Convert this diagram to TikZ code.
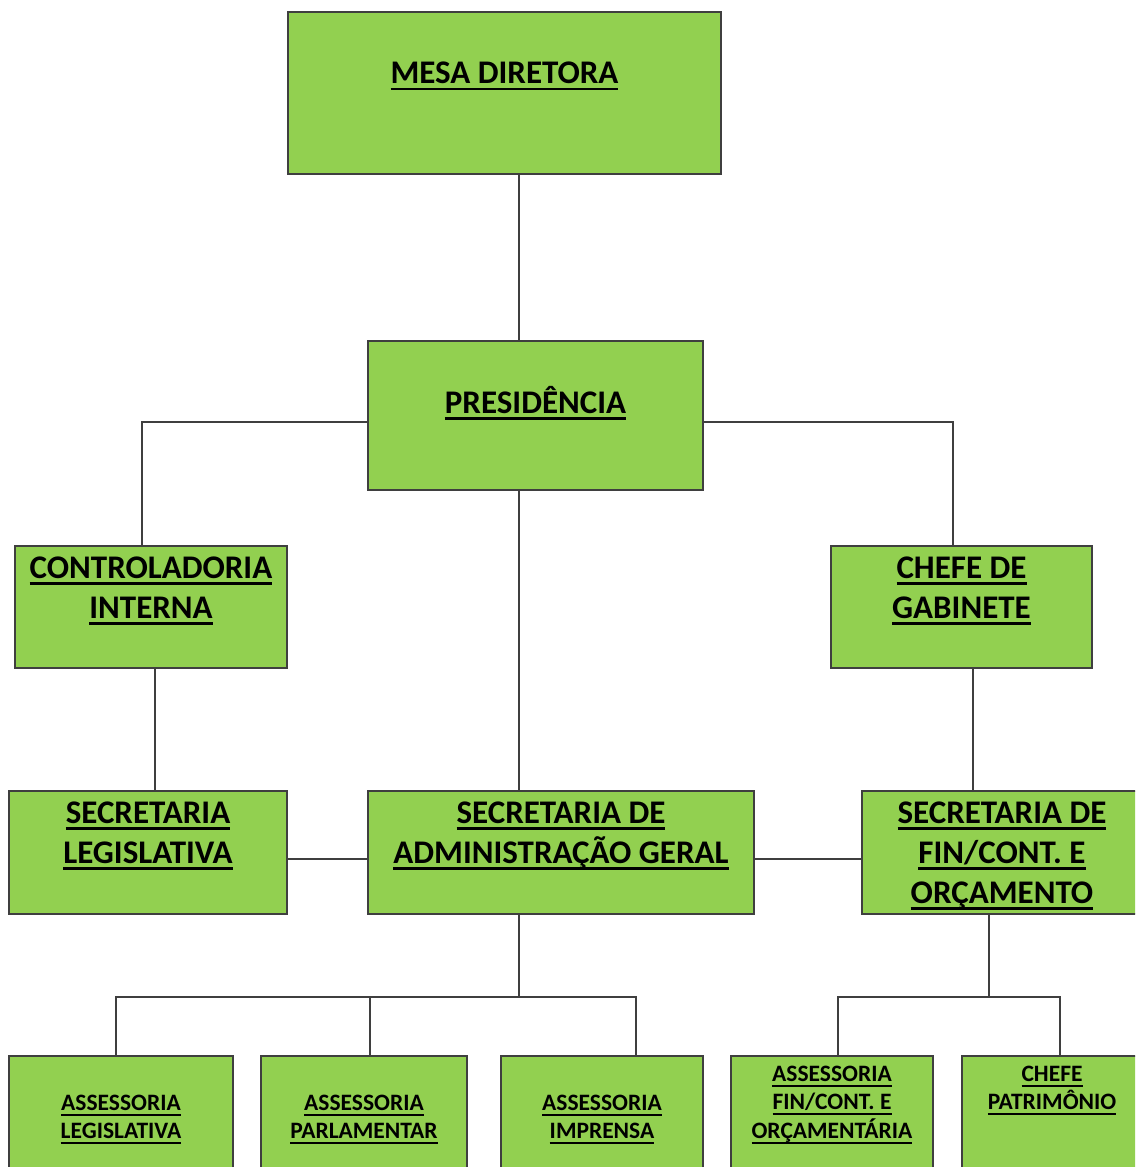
\documentclass[tikz,border=0pt]{standalone}
\usepackage{fontspec}
\setmainfont{Carlito}
\newsavebox\ulbox
\newcommand\myul[1]{\leavevmode\sbox\ulbox{\strut #1}\rlap{\rule[-0.21em]{\wd\ulbox}{0.085em}}\usebox\ulbox}
\newcommand\btext[4]{\parbox[c][#2][t]{#1}{\centering\vspace*{#3}#4\par}}
\definecolor{boxgreen}{HTML}{92D050}
\definecolor{linegray}{HTML}{3F3F3F}
\tikzset{
  box/.style={draw=linegray, fill=boxgreen, line width=1.2pt, inner sep=0pt, outer sep=0pt, text=black},
  big/.style={font=\fontsize{33}{40}\selectfont\bfseries},
  small/.style={font=\fontsize{23.5}{28}\selectfont\bfseries},
  conn/.style={draw=linegray, line width=1.3pt}
}
\begin{document}
\begin{tikzpicture}[x=1pt,y=-1pt]
\useasboundingbox (0,0) rectangle (1135,1167);
\clip (0,0) rectangle (1135,1167);
% boxes
\node[box,big] (mesa) at (504.5,93) {\btext{433pt}{162pt}{43.5pt}{\myul{MESA DIRETORA}}};
\node[box,big] (pres) at (535.5,415.5) {\btext{335pt}{149pt}{44pt}{\myul{PRESIDÊNCIA}}};
\node[box,big] (contr) at (151,607) {\btext{272pt}{122pt}{4pt}{\myul{CONTROLADORIA}\\\myul{INTERNA}}};
\node[box,big] (chefe) at (961.5,607) {\btext{261pt}{122pt}{4pt}{\myul{CHEFE DE}\\\myul{GABINETE}}};
\node[box,big] (secleg) at (148,852.5) {\btext{278pt}{123pt}{4pt}{\myul{SECRETARIA}\\\myul{LEGISLATIVA}}};
\node[box,big] (adm) at (561,852.5) {\btext{386pt}{123pt}{4pt}{\myul{SECRETARIA DE}\\\myul{ADMINISTRAÇÃO GERAL}}};
\node[box,big] (secfin) at (1002,852.5) {\btext{280pt}{123pt}{4pt}{\myul{SECRETARIA DE}\\\myul{FIN/CONT. E}\\\myul{ORÇAMENTO}}};
\node[box,small] (al) at (121,1121) {\btext{224pt}{130pt}{35pt}{\myul{ASSESSORIA}\\\myul{LEGISLATIVA}}};
\node[box,small] (ap) at (364,1121) {\btext{206pt}{130pt}{35pt}{\myul{ASSESSORIA}\\\myul{PARLAMENTAR}}};
\node[box,small] (ai) at (602,1121) {\btext{202pt}{130pt}{35pt}{\myul{ASSESSORIA}\\\myul{IMPRENSA}}};
\node[box,small] (af) at (832,1121) {\btext{202pt}{130pt}{6pt}{\myul{ASSESSORIA}\\\myul{FIN/CONT. E}\\\myul{ORÇAMENTÁRIA}}};
\node[box,small] (cp) at (1052,1121) {\btext{180pt}{130pt}{6pt}{\myul{CHEFE}\\\myul{PATRIMÔNIO}}};
% junctions
\coordinate (jadm) at (519,997);
\coordinate (jfin) at (989,997);
% connectors
\draw[conn] (mesa.south -| 519,0) -- (pres.north -| 519,0);
\draw[conn] (pres.west |- 0,422) -| (contr.north -| 142,0);
\draw[conn] (pres.east |- 0,422) -| (chefe.north -| 953,0);
\draw[conn] (pres.south -| 519,0) -- (adm.north -| 519,0);
\draw[conn] (contr.south -| 155,0) -- (secleg.north -| 155,0);
\draw[conn] (chefe.south -| 973,0) -- (secfin.north -| 973,0);
\draw[conn] (secleg.east |- 0,859) -- (adm.west |- 0,859);
\draw[conn] (adm.east |- 0,859) -- (secfin.west |- 0,859);
\draw[conn] (adm.south -| jadm) -- (jadm);
\draw[conn] (al.north -| 116,0) |- (jadm -| 636,0) -- (ai.north -| 636,0);
\draw[conn] (ap.north -| 370,0) -- (jadm -| 370,0);
\draw[conn] (secfin.south -| jfin) -- (jfin);
\draw[conn] (af.north -| 838,0) |- (jfin -| 1060,0) -- (cp.north -| 1060,0);
\end{tikzpicture}
\end{document}
